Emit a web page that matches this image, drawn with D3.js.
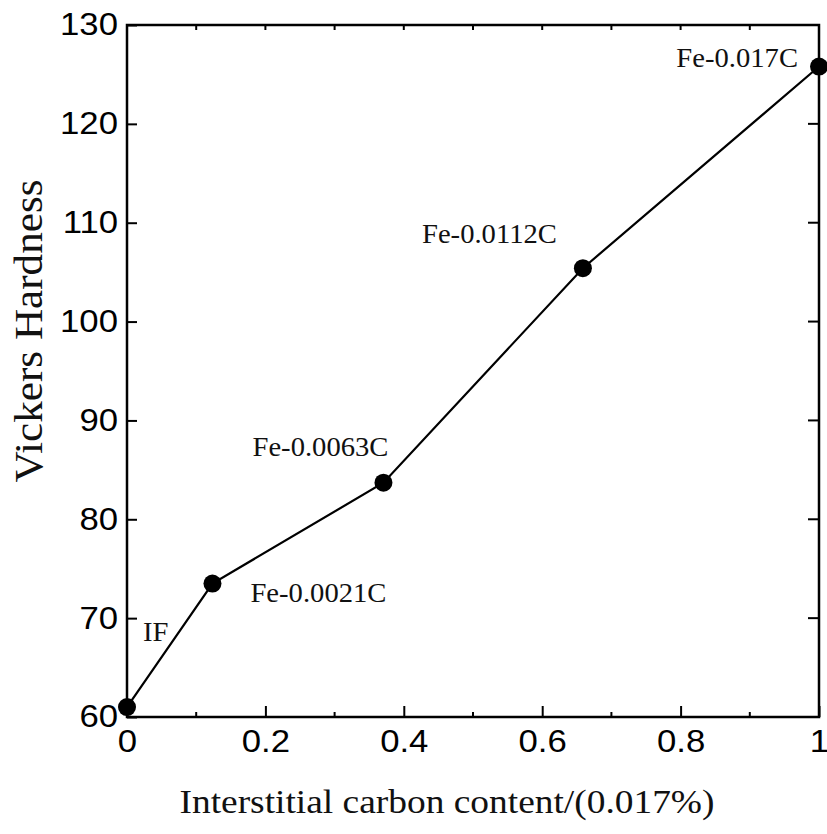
<!DOCTYPE html>
<html>
<head>
<meta charset="utf-8">
<script src="https://cdn.jsdelivr.net/npm/d3@7"></script>
<style>
  html, body { margin: 0; padding: 0; background: #fff; }
  svg { display: block; }
</style>
</head>
<body>
<svg id="chart" width="827" height="834"></svg>
<script>
// ---- data ----
const carbonFraction = [0, 0.1235, 0.3706, 0.6588, 1.0];
const hardness = [61.0, 73.5, 83.7, 105.4, 125.8];
const sampleLabels = ["IF", "Fe-0.0021C", "Fe-0.0063C", "Fe-0.0112C", "Fe-0.017C"];
const xTickValues = [0, 0.2, 0.4, 0.6, 0.8, 1];
const xTickLabels = ["0", "0.2", "0.4", "0.6", "0.8", "1"];
const yTickValues = [60, 70, 80, 90, 100, 110, 120, 130];
const xTitle = "Interstitial carbon content/(0.017%)";
const yTitle = "Vickers Hardness";

// ---- layout ----
const svg = d3.select("#chart");
const L = 127, R = 819, T = 25, B = 717;
const x = d3.scaleLinear().domain([0, 1]).range([L, R]);
const y = d3.scaleLinear().domain([60, 130]).range([B, T]);

const tickFont = "'Liberation Sans', Arial, sans-serif";
const serif = "'Liberation Serif', 'Times New Roman', serif";

function stretch(sel, k) {
  sel.each(function () {
    const w = this.getComputedTextLength();
    d3.select(this).attr("textLength", w * k).attr("lengthAdjust", "spacingAndGlyphs");
  });
}

// minor ticks
const minorX = d3.range(0.1, 1, 0.2);
const allX = d3.range(0.1, 1.0001, 0.1).filter(v => v < 0.999);

// bottom axis
const gx = svg.append("g").attr("transform", `translate(0,${B})`)
  .call(d3.axisBottom(x).tickValues(xTickValues).tickSize(-11).tickPadding(13)
    .tickFormat((d, i) => xTickLabels[i]));
gx.select(".domain").remove();
gx.selectAll(".tick line").attr("stroke", "#000").attr("stroke-width", 2);
gx.selectAll(".tick text").attr("font-family", tickFont).attr("font-size", 31).attr("fill", "#000");
stretch(gx.selectAll(".tick text"), 1.12);
gx.selectAll(".minor").data(minorX).enter().append("line")
  .attr("x1", d => x(d)).attr("x2", d => x(d)).attr("y1", 0).attr("y2", -5)
  .attr("stroke", "#000").attr("stroke-width", 2);

// top ticks
svg.append("g").selectAll("line").data(allX).enter().append("line")
  .attr("x1", d => x(d)).attr("x2", d => x(d)).attr("y1", T).attr("y2", T + 5)
  .attr("stroke", "#000").attr("stroke-width", 2);

// left axis
const gy = svg.append("g").attr("transform", `translate(${L},0)`)
  .call(d3.axisLeft(y).tickValues(yTickValues).tickSize(-10).tickPadding(9));
gy.select(".domain").remove();
gy.selectAll(".tick line").attr("stroke", "#000").attr("stroke-width", 2);
gy.selectAll(".tick text").attr("font-family", tickFont).attr("font-size", 31).attr("fill", "#000");
stretch(gy.selectAll(".tick text"), 1.12);

// right ticks
svg.append("g").selectAll("line").data(yTickValues.slice(1, -1)).enter().append("line")
  .attr("x1", R).attr("x2", R - 11).attr("y1", d => y(d)).attr("y2", d => y(d))
  .attr("stroke", "#000").attr("stroke-width", 2);

// frame
svg.append("rect").attr("x", L).attr("y", T).attr("width", R - L).attr("height", B - T)
  .attr("fill", "none").attr("stroke", "#000").attr("stroke-width", 2.5);

// data line
const pts = carbonFraction.map((c, i) => [c, hardness[i]]);
svg.append("path").datum(pts)
  .attr("d", d3.line().x(d => x(d[0])).y(d => y(d[1])))
  .attr("fill", "none").attr("stroke", "#000").attr("stroke-width", 2.2);

svg.append("g").selectAll("circle").data(pts).enter().append("circle")
  .attr("cx", d => x(d[0])).attr("cy", d => y(d[1])).attr("r", 9).attr("fill", "#000");

// annotations: offsets relative to each point (anchor, dx, dy)
const labelOffsets = [
  { anchor: "start", dx: 16, dy: -66 },
  { anchor: "start", dx: 38, dy: 18 },
  { anchor: "end", dx: 5, dy: -27 },
  { anchor: "end", dx: -26, dy: -25 },
  { anchor: "end", dx: -21, dy: 0 }
];
const ann = svg.append("g").selectAll("text").data(pts).enter().append("text")
  .attr("x", (d, i) => x(d[0]) + labelOffsets[i].dx)
  .attr("y", (d, i) => y(d[1]) + labelOffsets[i].dy)
  .attr("text-anchor", (d, i) => labelOffsets[i].anchor)
  .attr("font-family", serif).attr("font-size", 27).attr("fill", "#111")
  .text((d, i) => sampleLabels[i]);
stretch(ann, 1.06);

// axis titles
svg.append("text").attr("x", 447).attr("y", 813).attr("text-anchor", "middle")
  .attr("font-family", serif).attr("font-size", 33).attr("fill", "#111")
  .attr("textLength", 535).attr("lengthAdjust", "spacingAndGlyphs")
  .text(xTitle);

svg.append("text").attr("transform", "translate(42,331) rotate(-90)").attr("text-anchor", "middle")
  .attr("font-family", serif).attr("font-size", 40).attr("fill", "#111")
  .attr("textLength", 303).attr("lengthAdjust", "spacingAndGlyphs")
  .text(yTitle);
</script>
</body>
</html>
